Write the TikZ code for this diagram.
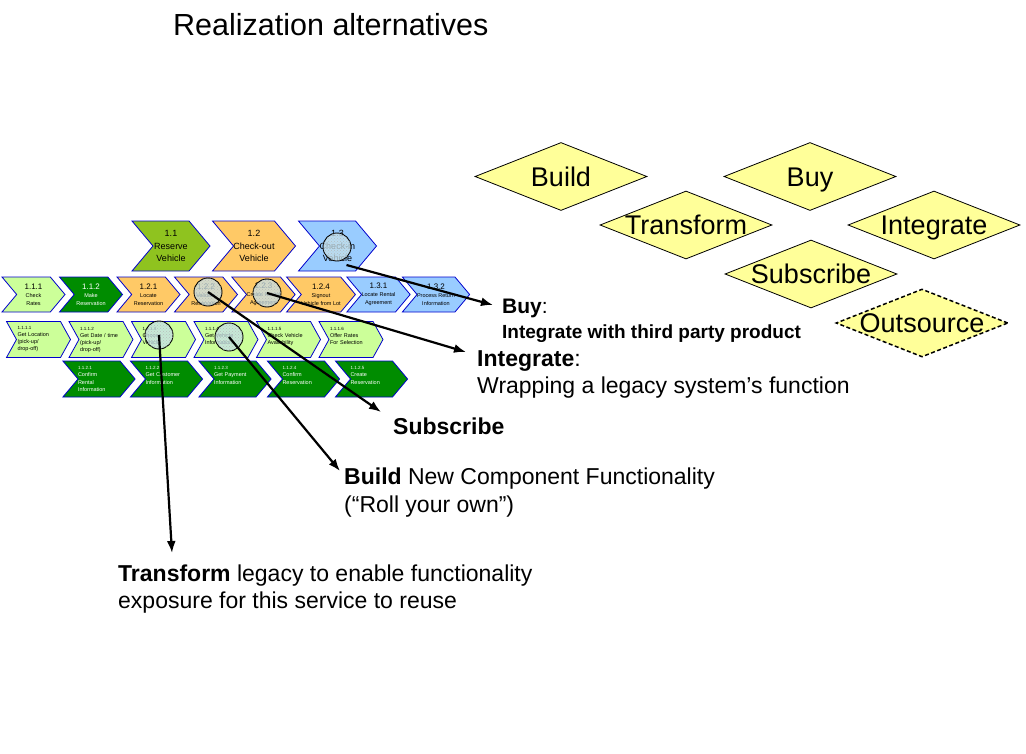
\documentclass[tikz,border=0pt]{standalone}
\usepackage{fontspec}
\setmainfont{Liberation Sans}
\usetikzlibrary{arrows.meta,calc,shapes.geometric,shapes.symbols,patterns}
\definecolor{StepGreen}{HTML}{8FC31F}
\definecolor{StepOrange}{HTML}{FFC966}
\definecolor{StepBlue}{HTML}{99CCFF}
\definecolor{TaskLight}{HTML}{CCFF99}
\definecolor{TaskDark}{HTML}{008C00}
\definecolor{StepEdge}{HTML}{0000CC}
\definecolor{ChoiceFill}{HTML}{FFFF99}
\definecolor{LensFill}{HTML}{C6E2EC}
\newcommand{\stepno}[1]{{\fontsize{8}{10}\selectfont #1}}
\newcommand{\taskno}[1]{{\fontsize{4.5}{7}\selectfont #1}}

\begin{document}
\begin{tikzpicture}[x=1pt,y=-1pt,
  chev/.style={shape=signal,signal from=west,signal to=east,draw=StepEdge,
    line width=0.8pt,inner sep=0pt,align=center},
  stepone/.style={chev,minimum width=78pt,minimum height=50pt,
    signal pointer angle=100,font=\fontsize{9}{12.5}\selectfont},
  steptwo/.style={chev,minimum width=63pt,minimum height=35pt,
    signal pointer angle=100,font=\fontsize{5.5}{8}\selectfont},
  stepthree/.style={chev,fill=TaskLight,minimum width=64pt,minimum height=36pt,
    signal pointer angle=122,text width=42pt,align=left,
    font=\fontsize{5.5}{7}\selectfont},
  stepfour/.style={chev,fill=TaskDark,text=white,minimum width=63pt,
    minimum height=36pt,signal pointer angle=100,text width=42pt,align=left,
    font=\fontsize{5.5}{7.5}\selectfont},
  lens/.style={circle,draw=black,line width=0.9pt,minimum size=28pt,
    inner sep=0pt,fill=LensFill,fill opacity=0.75,
    postaction={pattern=crosshatch dots,pattern color=gray!60}},
  choice/.style={diamond,aspect=2.53,draw=black,line width=0.8pt,
    fill=ChoiceFill,inner sep=-3pt,text height=19pt,text depth=0pt,
    minimum width=172pt,minimum height=68pt,
    font=\fontsize{27}{30}\selectfont},
  note/.style={anchor=base west,inner sep=0pt,
    font=\fontsize{23}{27}\selectfont},
  pointer/.style={-{Latex[length=12pt,width=9pt]},line width=2.2pt,draw=black}
]
\useasboundingbox (0,0) rectangle (1026,753);

\node[anchor=base west,inner sep=0pt,font=\fontsize{30.5}{34}\selectfont]
  (title) at (173,35) {Realization alternatives};

% level 1
\node[stepone,fill=StepGreen] (c11) at (171,246) {1.1\\Reserve\\Vehicle};
\node[stepone,fill=StepOrange] (c12) at (254,246) {1.2\\Check-out\\Vehicle};
\node[stepone,fill=StepBlue] (c13) at (337.5,246) {1.3\\Check-in\\Vehicle};

% level 2
\node[steptwo,fill=TaskLight] (s111) at (33.5,294.5) {\stepno{1.1.1}\\Check\\Rates};
\node[steptwo,fill=TaskDark,text=white] (s112) at (91,294.5)
  {\stepno{1.1.2}\\Make\\Reservation};
\node[steptwo,fill=StepOrange] (s121) at (148.5,294.5)
  {\stepno{1.2.1}\\Locate\\Reservation};
\node[steptwo,fill=StepOrange] (s122) at (206,294.5)
  {\stepno{1.2.2}\\Validate\\Reservation};
\node[steptwo,fill=StepOrange] (s123) at (263.5,294.5)
  {\stepno{1.2.3}\\Create Rental\\Agreement};
\node[steptwo,fill=StepOrange] (s124) at (321,294.5)
  {\stepno{1.2.4}\\Signout\\Vehicle from Lot};
\node[steptwo,fill=StepBlue] (s131) at (378.5,294.5)
  {\stepno{1.3.1}\\Locate Rental\\Agreement};
\node[steptwo,fill=StepBlue] (s132) at (436,294.5)
  {\stepno{1.3.2}\\Process Return\\Information};

% level 3
\node[stepthree] (t1111) at (38.5,339.5)
  {\taskno{1.1.1.1}\\Get Location\\(pick-up/\\drop-off)};
\node[stepthree] (t1112) at (101,339.5)
  {\taskno{1.1.1.2}\\Get Date / time\\(pick-up/\\drop-off)};
\node[stepthree] (t1113) at (163.5,339.5)
  {\taskno{1.1.1.3}\\Choose\\Vehicle\\\mbox{}};
\node[stepthree] (t1114) at (226,339.5)
  {\taskno{1.1.1.4}\\Get Vehicle\\Information\\\mbox{}};
\node[stepthree] (t1115) at (288.5,339.5)
  {\taskno{1.1.1.5}\\Check Vehicle\\Availability\\\mbox{}};
\node[stepthree] (t1116) at (351,339.5)
  {\taskno{1.1.1.6}\\Offer Rates\\For Selection\\\mbox{}};

\node[stepfour] (t1121) at (99,379)
  {\taskno{1.1.2.1}\\Confirm\\Rental\\Information};
\node[stepfour] (t1122) at (166.5,379)
  {\taskno{1.1.2.2}\\Get Customer\\Information\\\mbox{}};
\node[stepfour] (t1123) at (235,379)
  {\taskno{1.1.2.3}\\Get Payment\\Information\\\mbox{}};
\node[stepfour] (t1124) at (303.5,379)
  {\taskno{1.1.2.4}\\Confirm\\Reservation\\\mbox{}};
\node[stepfour] (t1125) at (371.5,379)
  {\taskno{1.1.2.5}\\Create\\Reservation\\\mbox{}};

% lenses on the services
\node[lens] (l13) at (337,247) {};
\node[lens] (l122) at (208,292) {};
\node[lens] (l123) at (267,293) {};
\node[lens] (l1113) at (159,335) {};
\node[lens] (l1114) at (229,337) {};

% alternatives
\node[choice] (dbuild) at (561,176.5) {Build};
\node[choice] (dbuy) at (810,176.5) {Buy};
\node[choice] (dtrans) at (686,225) {Transform};
\node[choice] (dinteg) at (934,225) {Integrate};
\node[choice] (dsubs) at (811,274) {Subscribe};
\node[choice,line width=1.5pt,dash pattern=on 4pt off 2.5pt] (dout)
  at (922,323) {Outsource};

% notes
\node[note,font=\fontsize{21}{25}\selectfont] (nbuy) at (502,313)
  {\textbf{Buy}:};
\node[note,font=\bfseries\fontsize{19}{23}\selectfont] (nbuysub) at (502,338)
  {Integrate with third party product};
\node[note] (nint) at (477,366) {\textbf{Integrate}:};
\node[note] (nintsub) at (477,393) {Wrapping a legacy system’s function};
\node[note] (nsub) at (393,434) {\textbf{Subscribe}};
\node[note] (nbld) at (344,484) {\textbf{Build} New Component Functionality};
\node[note] (nbldsub) at (344,512) {(“Roll your own”)};
\node[note] (ntrf) at (118,581) {\textbf{Transform} legacy to enable functionality};
\node[note] (ntrfsub) at (118,608) {exposure for this service to reuse};

\draw[pointer] ($(c13.center)+(9,19)$) -- ($(nbuy.base west)+(-9,-8)$);
\draw[pointer] (l123.center) -- ($(nint.base west)+(-11,-14)$);
\draw[pointer] (l122.center) -- ($(nsub.base west)+(-12,-22)$);
\draw[pointer] (l1114.center) -- ($(nbld.base west)+(-4,-13)$);
\draw[pointer] (l1113.center) -- ($(ntrf.base west)+(54,-28)$);
\end{tikzpicture}
\end{document}
